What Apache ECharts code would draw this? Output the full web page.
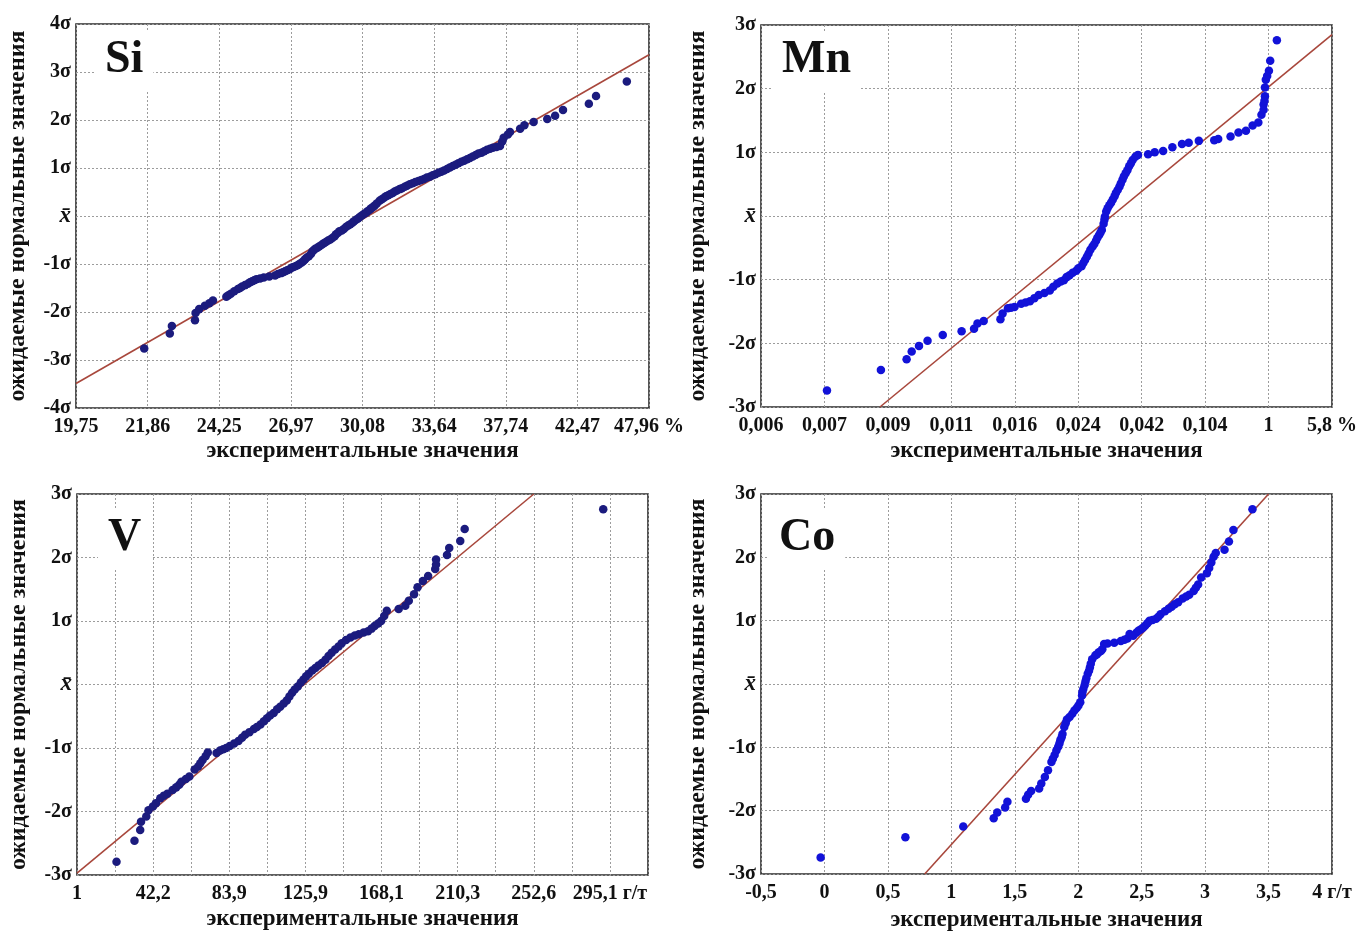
<!DOCTYPE html>
<html><head><meta charset="utf-8">
<script src="https://cdn.jsdelivr.net/npm/echarts@6/dist/echarts.min.js"></script>
<style>html,body{margin:0;padding:0;background:#fff}#c{width:1371px;height:933px}</style>
</head><body><div id="c"></div>
<script>
// ---------- tick labels (axes are drawn with equal spacing between these labels) ----------
const siTicks = [19.75, 21.86, 24.25, 26.97, 30.08, 33.64, 37.74, 42.47, 47.96];
const mnTicks = [0.006, 0.007, 0.009, 0.011, 0.016, 0.024, 0.042, 0.104, 1, 5.8];
const vTicks  = [1, 42.2, 83.9, 125.9, 168.1, 210.3, 252.6, 295.1];
const coTicks = [-0.5, 0, 0.5, 1, 1.5, 2, 2.5, 3, 3.5, 4];
const siUnit = '%', mnUnit = '%', vUnit = 'г/т', coUnit = 'г/т';
const panelNames = ['Si', 'Mn', 'V', 'Co'];
const xTitle = 'экспериментальные значения';
const yTitle = 'ожидаемые нормальные значения';

// ---------- Si: experimental values (%) and expected normal values (σ) ----------
const siX = [21.76,22.60,22.67,23.44,23.46,23.58,23.77,23.92,24.04,24.52,24.69,24.96,25.12,25.34,25.50,25.66,25.94,26.37,26.59,26.75,26.92,27.09,27.28,27.44,27.59,27.75,27.90,28.03,28.21,28.40,28.59,28.77,28.93,29.08,29.27,29.46,29.64,29.80,29.96,30.15,30.33,30.51,30.69,30.93,31.15,31.36,31.58,31.79,32.04,32.29,32.57,32.86,33.14,33.43,33.72,34.05,34.38,34.71,35.03,35.36,35.69,36.02,36.35,36.67,37.00,37.41,37.54,37.62,37.88,38.02,38.69,38.97,39.58,40.48,41.00,41.52,43.35,43.90,46.26,
  24.60,24.82,25.04,25.23,25.42,25.58,25.80,26.15,26.48,26.67,26.83,27.00,27.19,27.34,27.53,27.65,27.84,27.97,28.12,28.31,28.49,28.68,28.87,29.02,29.18,29.36,29.55,29.71,29.89,30.05,30.26,30.44,30.61,30.79,31.04,31.25,31.47,31.68,31.93,32.18,32.43,32.71,33.00,33.28,33.57,33.89,34.21,34.54,34.87,35.20,35.53,35.85,36.18,36.51,36.84,37.21];
const siY = [-2.76,-2.45,-2.29,-2.17,-2.02,-1.94,-1.87,-1.82,-1.76,-1.68,-1.62,-1.52,-1.47,-1.41,-1.36,-1.32,-1.28,-1.24,-1.19,-1.15,-1.11,-1.06,-1.02,-0.97,-0.90,-0.84,-0.74,-0.68,-0.63,-0.57,-0.51,-0.46,-0.38,-0.32,-0.27,-0.20,-0.14,-0.08,-0.02,0.04,0.10,0.16,0.22,0.32,0.38,0.43,0.48,0.53,0.58,0.63,0.68,0.73,0.77,0.82,0.87,0.92,0.98,1.04,1.10,1.15,1.21,1.27,1.32,1.38,1.42,1.46,1.55,1.63,1.70,1.75,1.82,1.89,1.96,2.02,2.09,2.21,2.34,2.50,2.80,
  -1.65,-1.57,-1.50,-1.44,-1.38,-1.34,-1.30,-1.26,-1.21,-1.17,-1.13,-1.08,-1.04,-1.00,-0.93,-0.87,-0.79,-0.71,-0.66,-0.60,-0.54,-0.49,-0.42,-0.35,-0.30,-0.23,-0.17,-0.11,-0.05,0.01,0.07,0.13,0.19,0.26,0.35,0.41,0.46,0.51,0.56,0.61,0.66,0.71,0.75,0.80,0.85,0.90,0.95,1.01,1.07,1.13,1.18,1.24,1.30,1.35,1.40,1.44];
const siLineX = [19.75, 47.96];
const siLineY = [-3.49, 3.36];

// ---------- Mn ----------
const mnX = [0.00708,0.00878,0.00959,0.00975,0.00998,0.01025,0.01073,0.01181,0.01279,0.01306,0.01355,0.01487,0.01504,0.01546,0.01598,0.0168,0.01791,0.01902,0.02042,0.02086,0.02136,0.02219,0.02291,0.02375,0.02494,0.02594,0.02693,0.02807,0.02906,0.02994,0.0307,0.0312,0.03156,0.03194,0.03282,0.03381,0.03469,0.0357,0.03656,0.03745,0.03845,0.03944,0.04096,0.04826,0.05477,0.06296,0.07201,0.08143,0.08794,0.09786,0.233,0.2886,0.4633,0.5753,0.681,0.7751,0.8557,0.8996,0.9301,0.9489,0.9489,0.9615,1.0288,1.1248,1.6288,
  0.02405,0.02544,0.02645,0.02744,0.02857,0.02944,0.03032,0.03143,0.03232,0.03332,0.03431,0.0352,0.03608,0.03694,0.03795,0.03894,0.0402,0.0157,0.01736,0.01847,0.01974,0.0218,0.02253,0.0233,0.9301,0.9427,0.9803];
const mnY = [-2.74,-2.42,-2.25,-2.13,-2.04,-1.96,-1.87,-1.81,-1.77,-1.69,-1.65,-1.62,-1.53,-1.45,-1.43,-1.38,-1.34,-1.24,-1.17,-1.11,-1.06,-1.01,-0.93,-0.86,-0.79,-0.69,-0.59,-0.48,-0.39,-0.30,-0.22,-0.12,-0.01,0.07,0.17,0.26,0.36,0.46,0.57,0.67,0.78,0.88,0.96,0.97,1.00,1.02,1.08,1.13,1.15,1.18,1.19,1.21,1.25,1.31,1.34,1.42,1.47,1.59,1.75,1.88,2.02,2.14,2.28,2.44,2.76,
  -0.82,-0.74,-0.64,-0.53,-0.44,-0.34,-0.26,-0.06,0.12,0.21,0.31,0.41,0.51,0.62,0.72,0.83,0.93,-1.44,-1.36,-1.29,-1.21,-1.03,-0.96,-0.89,1.67,1.81,2.20];
const mnLineX = [0.00875, 5.8];
const mnLineY = [-3, 2.85];

// ---------- V (г/т) ----------
const vX = [22.38,32.11,35.20,35.65,38.49,39.69,43.74,46.12,50.00,52.88,56.50,57.71,62.05,64.93,66.84,69.26,70.93,72.14,76.94,80.56,84.15,88.98,92.64,97.47,101.12,104.73,108.39,112.00,115.65,118.55,121.70,124.85,127.76,131.43,135.06,138.73,142.36,146.03,150.88,155.52,160.59,164.26,167.89,171.01,177.60,181.27,183.21,186.12,188.06,191.01,193.93,197.85,198.32,198.32,204.39,205.62,211.74,214.19,291.36,
  42.08,48.08,54.84,60.13,68.05,78.85,82.23,86.59,90.91,95.03,99.15,103.01,106.41,110.32,113.93,117.08,120.02,123.38,126.32,129.70,133.12,137.00,140.42,144.30,148.43,153.29,158.18,162.57,166.20,169.58];
const vY = [-2.79,-2.46,-2.29,-2.16,-2.08,-1.98,-1.87,-1.79,-1.72,-1.66,-1.58,-1.53,-1.45,-1.34,-1.29,-1.19,-1.13,-1.07,-1.08,-1.02,-0.97,-0.89,-0.79,-0.70,-0.63,-0.53,-0.45,-0.35,-0.25,-0.13,-0.03,0.08,0.17,0.26,0.34,0.45,0.55,0.65,0.74,0.79,0.84,0.92,1.00,1.16,1.19,1.24,1.32,1.42,1.53,1.63,1.71,1.82,1.89,1.97,2.04,2.15,2.26,2.45,2.76,
  -1.92,-1.75,-1.62,-1.49,-1.24,-1.04,-1.00,-0.93,-0.84,-0.75,-0.67,-0.58,-0.49,-0.39,-0.30,-0.19,-0.08,0.03,0.13,0.22,0.30,0.39,0.50,0.60,0.70,0.77,0.82,0.88,0.96,1.08];
const vLineX = [1, 252.6];
const vLineY = [-2.97, 3.0];

// ---------- Co (г/т) ----------
const coX = [-0.03,0.638,1.094,1.334,1.362,1.424,1.442,1.588,1.605,1.629,1.692,1.709,1.737,1.762,1.789,1.814,1.842,1.859,1.876,1.890,1.911,1.953,1.988,2.016,2.030,2.040,2.057,2.075,2.092,2.110,2.134,2.162,2.190,2.204,2.284,2.336,2.388,2.405,2.458,2.492,2.527,2.562,2.614,2.649,2.684,2.736,2.788,2.823,2.875,2.910,2.945,2.969,3.014,3.032,3.049,3.067,3.084,3.153,3.188,3.223,3.373,
  1.800,1.828,1.852,1.869,1.901,1.932,1.970,2.002,2.033,2.050,2.064,2.085,2.099,2.148,2.179,2.231,2.364,2.433,2.475,2.510,2.545,2.586,2.632,2.712,2.760,2.851,2.927];
const coY = [-2.74,-2.42,-2.25,-2.12,-2.03,-1.95,-1.86,-1.81,-1.75,-1.69,-1.65,-1.57,-1.47,-1.36,-1.23,-1.12,-0.99,-0.89,-0.79,-0.68,-0.56,-0.47,-0.38,-0.29,-0.18,-0.08,0.04,0.16,0.26,0.39,0.45,0.50,0.55,0.63,0.65,0.68,0.72,0.79,0.81,0.86,0.92,1.00,1.03,1.10,1.15,1.22,1.29,1.35,1.41,1.47,1.57,1.68,1.75,1.83,1.92,2.01,2.07,2.12,2.25,2.43,2.76,
  -1.18,-1.05,-0.94,-0.84,-0.62,-0.52,-0.42,-0.34,-0.13,-0.02,0.09,0.21,0.32,0.47,0.52,0.64,0.70,0.76,0.84,0.89,0.96,1.01,1.06,1.19,1.26,1.38,1.52];
const coLineX = [0.79, 3.5];
const coLineY = [-3, 3];

// ---------- scale: value -> position on an axis whose labels are equally spaced ----------
function tickScale(ticks) {
  return function (v) {
    let i = 0;
    while (i < ticks.length - 2 && v > ticks[i + 1]) i++;
    return i + (v - ticks[i]) / (ticks[i + 1] - ticks[i]);
  };
}
const ident = v => v;
const fmt = v => String(v).replace('.', ',');

const FONT = '"Liberation Serif", "Times New Roman", serif';
const TXT = '#111';
const DOT_DARK = '#1b1b7e';
const DOT_BLUE = '#1212d8';
const LINE_C = '#a8473c';

const grids = [
  {left: 76,  top: 24,  width: 573, height: 384},
  {left: 761, top: 25,  width: 571, height: 382},
  {left: 77,  top: 494, width: 571, height: 381},
  {left: 761, top: 494, width: 571, height: 382}
].map(g => Object.assign(g, {show: true, borderColor: '#2b2b2b', borderWidth: 1.6, containLabel: false}));

const splitLine = {show: true, lineStyle: {color: '#9c9c9c', type: [2, 2], width: 1}};
const axisLabelBase = {color: TXT, fontFamily: FONT, fontWeight: 'bold', fontSize: 20};
const titleStyle = {color: TXT, fontFamily: FONT, fontWeight: 'bold', fontSize: 23};

function xAxisFor(idx, cfg) {
  return {
    gridIndex: idx, type: 'value', min: cfg.min, max: cfg.max, interval: cfg.interval,
    axisLine: {show: false}, axisTick: {show: false}, splitLine: splitLine,
    axisLabel: Object.assign({}, axisLabelBase, {margin: 9, showMinLabel: true, showMaxLabel: true, formatter: cfg.fmt}),
    name: xTitle, nameLocation: 'middle', nameGap: cfg.nameGap,
    nameTextStyle: titleStyle
  };
}
function yAxisFor(idx, lim, gap) {
  return {
    gridIndex: idx, type: 'value', min: -lim, max: lim, interval: 1,
    axisLine: {show: false}, axisTick: {show: false}, splitLine: splitLine,
    axisLabel: Object.assign({}, axisLabelBase, {
      margin: 5,
      formatter: v => v === 0 ? '{m|x\u0304}' : v + 'σ',
      rich: {m: {fontFamily: FONT, fontWeight: 'bold', fontStyle: 'italic', fontSize: 23, color: TXT}}
    }),
    name: yTitle, nameLocation: 'middle', nameGap: gap, nameRotate: 90,
    nameTextStyle: Object.assign({}, titleStyle, {fontSize: 24})
  };
}

const siPos = tickScale(siTicks), mnPos = tickScale(mnTicks), vPos = tickScale(vTicks);

const xAxes = [
  xAxisFor(0, {min: 0, max: siTicks.length - 1, interval: 1, nameGap: 32,
    fmt: v => fmt(siTicks[Math.round(v)]) + (Math.round(v) === siTicks.length - 1 ? ' ' + siUnit : '')}),
  xAxisFor(1, {min: 0, max: mnTicks.length - 1, interval: 1, nameGap: 33,
    fmt: v => fmt(mnTicks[Math.round(v)]) + (Math.round(v) === mnTicks.length - 1 ? ' ' + mnUnit : '')}),
  xAxisFor(2, {min: 0, max: vTicks.length - 0.5, interval: 0.5, nameGap: 33,
    fmt: v => (Number.isInteger(v) && v < vTicks.length) ? fmt(vTicks[v]) + (v === vTicks.length - 1 ? ' ' + vUnit : '') : ''}),
  xAxisFor(3, {min: coTicks[0], max: coTicks[coTicks.length - 1], interval: coTicks[1] - coTicks[0], nameGap: 35,
    fmt: v => fmt(v) + (v === coTicks[coTicks.length - 1] ? ' ' + coUnit : '')})
];
const yAxes = [yAxisFor(0, 4, 46), yAxisFor(1, 3, 51), yAxisFor(2, 3, 46), yAxisFor(3, 3, 51)];

function pairs(xs, ys, f) {
  const n = Math.min(xs.length, ys.length), out = [];
  for (let i = 0; i < n; i++) out.push([f(xs[i]), ys[i]]);
  return out;
}
const panels = [
  {x: siX, y: siY, lx: siLineX, ly: siLineY, f: siPos, c: DOT_DARK},
  {x: mnX, y: mnY, lx: mnLineX, ly: mnLineY, f: mnPos, c: DOT_BLUE},
  {x: vX,  y: vY,  lx: vLineX,  ly: vLineY,  f: vPos,  c: DOT_DARK},
  {x: coX, y: coY, lx: coLineX, ly: coLineY, f: ident, c: DOT_BLUE}
];
const series = [];
panels.forEach((p, i) => {
  series.push({type: 'line', xAxisIndex: i, yAxisIndex: i, data: pairs(p.lx, p.ly, p.f),
    symbol: 'none', silent: true, z: 2, lineStyle: {color: LINE_C, width: 1.6}});
  series.push({type: 'scatter', xAxisIndex: i, yAxisIndex: i, data: pairs(p.x, p.y, p.f),
    symbolSize: 8.5, z: 3, itemStyle: {color: p.c, opacity: 1}});
});

const labelPos = [{left: 95, top: 31}, {left: 772, top: 31}, {left: 98, top: 509}, {left: 769, top: 509}];
const titles = panelNames.map((t, i) => ({
  text: t, left: labelPos[i].left, top: labelPos[i].top,
  backgroundColor: '#fff', padding: [6, 10, 8, 10],
  textStyle: {fontFamily: FONT, fontWeight: 'bold', fontSize: 46, color: TXT, lineHeight: 46}
}));

const chart = echarts.init(document.getElementById('c'), null, {renderer: 'canvas'});
chart.setOption({
  animation: false,
  backgroundColor: '#fff',
  title: titles,
  grid: grids,
  xAxis: xAxes,
  yAxis: yAxes,
  series: series
});
</script>
</body></html>
